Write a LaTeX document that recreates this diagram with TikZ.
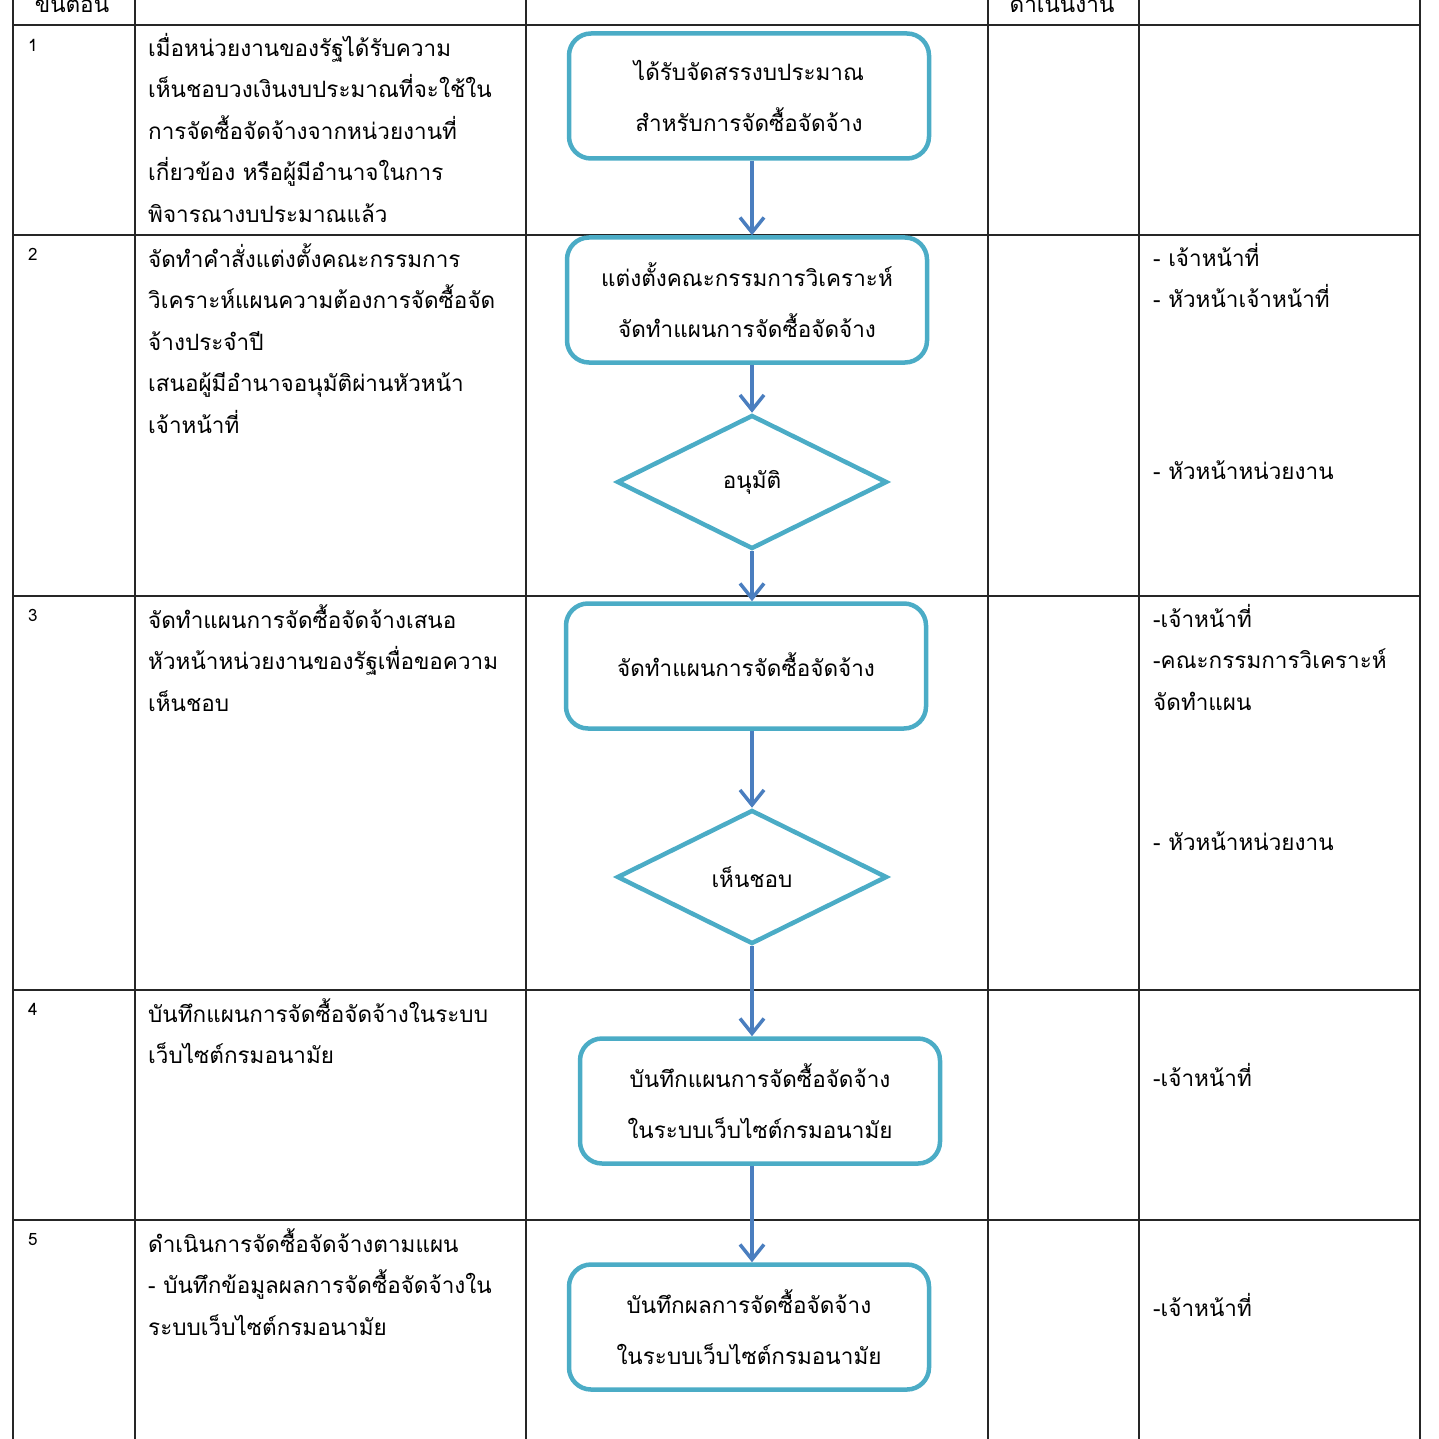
\documentclass[tikz,border=0pt]{standalone}
\usepackage{fontspec}
\newfontfamily\thai[Script=Thai]{Loma}
\usetikzlibrary{arrows.meta,shapes.geometric}
\definecolor{boxblue}{HTML}{4BACC6}
\definecolor{arrowblue}{HTML}{4A7EBF}

\begin{document}
\begin{tikzpicture}[x=1pt,y=-1pt,
  grid/.style={draw=black!85,line width=1.8pt},
  box/.style={draw=boxblue,line width=4.5pt,rounded corners=22pt,minimum width=360pt,minimum height=125pt,align=center,font=\thai\fontsize{22.5}{51}\selectfont},
  decide/.style={diamond,draw=boxblue,line width=4.5pt,minimum width=270pt,minimum height=134pt,inner sep=0pt,font=\thai\fontsize{22.5}{30}\selectfont},
  flow/.style={draw=arrowblue,line width=3.5pt,-{Straight Barb[length=15pt,width=24pt]}},
  txt/.style={anchor=north west,align=left,inner sep=0pt,font=\thai\fontsize{22.5}{41.5}\selectfont,execute at begin node={\rule{0pt}{30pt}}},
  num/.style={anchor=base west,inner sep=0pt,font=\thai\fontsize{17}{20}\selectfont}]
\useasboundingbox (0,0) rectangle (1439,1439);
\clip (0,0) rectangle (1439,1439);
% table
\foreach \x in {13,135,526,988,1139,1420} \draw[grid] (\x,-10) -- (\x,1450);
\foreach \y in {25,235,596,990,1220} \draw[grid] (13,\y) -- (1420,\y);
\node[txt,anchor=base] (h1) at (72,13) {ขั้นตอน};
\node[txt,anchor=base] (h4) at (1062,13) {ดำเนินงาน};
% steps
\node[num] (n1) at (28,52) {1};
\node[num] (n2) at (28,260) {2};
\node[num] (n3) at (28,621) {3};
\node[num] (n4) at (28,1015) {4};
\node[num] (n5) at (28,1245) {5};
\node[txt] (s1) at (148,33) {เมื่อหน่วยงานของรัฐได้รับความ\\เห็นชอบวงเงินงบประมาณที่จะใช้ใน\\การจัดซื้อจัดจ้างจากหน่วยงานที่\\เกี่ยวข้อง หรือผู้มีอำนาจในการ\\พิจารณางบประมาณแล้ว};
\node[txt] (s2) at (148,243) {จัดทำคำสั่งแต่งตั้งคณะกรรมการ\\วิเคราะห์แผนความต้องการจัดซื้อจัด\\จ้างประจำปี\\เสนอผู้มีอำนาจอนุมัติผ่านหัวหน้า\\เจ้าหน้าที่};
\node[txt] (s3) at (148,604) {จัดทำแผนการจัดซื้อจัดจ้างเสนอ\\หัวหน้าหน่วยงานของรัฐเพื่อขอความ\\เห็นชอบ};
\node[txt] (s4) at (148,998) {บันทึกแผนการจัดซื้อจัดจ้างในระบบ\\เว็บไซต์กรมอนามัย};
\node[txt] (s5) at (148,1228) {ดำเนินการจัดซื้อจัดจ้างตามแผน\\- บันทึกข้อมูลผลการจัดซื้อจัดจ้างใน\\ระบบเว็บไซต์กรมอนามัย};
% responsible
\node[txt] (r2) at (1153,243) {- เจ้าหน้าที่\\- หัวหน้าเจ้าหน้าที่};
\node[txt] (r2b) at (1153,449) {- หัวหน้าหน่วยงาน};
\node[txt] (r3) at (1153,604) {-เจ้าหน้าที่\\-คณะกรรมการวิเคราะห์\\จัดทำแผน};
\node[txt] (r3b) at (1153,820) {- หัวหน้าหน่วยงาน};
\node[txt] (r4) at (1153,1056) {-เจ้าหน้าที่};
\node[txt] (r5) at (1153,1286) {-เจ้าหน้าที่};
% flow
\node[box] (budget) at (749,96) {ได้รับจัดสรรงบประมาณ\\สำหรับการจัดซื้อจัดจ้าง};
\node[box] (appoint) at (747,300) {แต่งตั้งคณะกรรมการวิเคราะห์\\จัดทำแผนการจัดซื้อจัดจ้าง};
\node[decide] (approve) at (752,482) {\raisebox{-3pt}{อนุมัติ}};
\node[box] (plan) at (746,666) {\raisebox{3pt}{จัดทำแผนการจัดซื้อจัดจ้าง}};
\node[decide] (agree) at (752,877) {เห็นชอบ};
\node[box] (record) at (760,1101) {บันทึกแผนการจัดซื้อจัดจ้าง\\ในระบบเว็บไซต์กรมอนามัย};
\node[box] (result) at (749,1327) {บันทึกผลการจัดซื้อจัดจ้าง\\ในระบบเว็บไซต์กรมอนามัย};
\draw[flow] (budget.south -| approve) -- (appoint.north -| approve);
\draw[flow] (appoint.south -| approve) -- (approve.north);
\draw[flow] (approve.south) -- (plan.north -| approve);
\draw[flow] (plan.south -| approve) -- (agree.north);
\draw[flow] (agree.south) -- (record.north -| agree);
\draw[flow] (record.south -| agree) -- (result.north -| agree);
\end{tikzpicture}
\end{document}
